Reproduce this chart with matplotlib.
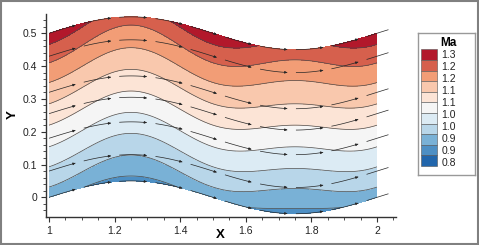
import numpy as np
import matplotlib
matplotlib.use('Agg')
import matplotlib.pyplot as plt
from matplotlib.patches import Rectangle

plt.rcParams['font.family'] = ['Liberation Sans', 'DejaVu Sans']
plt.rcParams['lines.scale_dashes'] = False

# channel geometry
x_start, x_end = 1.0, 2.0
wall_amp = 0.05
wave_len = 1.0
height = 0.5

# Mach contour levels and where each level boundary sits
ma_levels = [0.85, 0.9, 0.95, 1.0, 1.05, 1.1, 1.15, 1.2, 1.25, 1.3]
bound_x1 = [-0.05, -0.01, 0.031, 0.093, 0.154, 0.22, 0.285, 0.35, 0.41, 0.466]      # at x = 1.0
bound_crest = [0.02, 0.065, 0.129, 0.195, 0.259, 0.324, 0.39, 0.456, 0.525, 0.58]   # at x = 1.25
bound_trough = [-0.08, -0.034, 0.027, 0.088, 0.154, 0.22, 0.285, 0.356, 0.419, 0.475]  # at x = 1.75

ma_colors = ['#2166ac', '#4d8fc4', '#79b1d6', '#b8d6e9', '#dcebf4', '#f5f5f5',
             '#fce4d6', '#f9c8ad', '#f29d76', '#d6604d', '#b2182b']
legend_labels = ['1.3', '1.2', '1.2', '1.1', '1.1', '1.0', '1.0', '0.9', '0.9', '0.8']

# streamtraces: offset above the lower wall
stream_offsets = [0.0, 0.08, 0.18, 0.255, 0.32, 0.43, 0.5]
stream_x_end = 2.035

xticks = [1, 1.2, 1.4, 1.6, 1.8, 2]
xtick_labels = ['1', '1.2', '1.4', '1.6', '1.8', '2']
yticks = [0, 0.1, 0.2, 0.3, 0.4, 0.5]
ytick_labels = ['0', '0.1', '0.2', '0.3', '0.4', '0.5']


def wall(x):
    return wall_amp * np.sin(2 * np.pi * (x - x_start) / wave_len)


def boundary(k, x):
    th = 2 * np.pi * (x - x_start) / wave_len
    mid = 0.5 * (bound_crest[k] + bound_trough[k])
    a = 0.5 * (bound_crest[k] - bound_trough[k])
    m = 0.5 * (bound_x1[k] + mid)
    b = 0.5 * (bound_x1[k] - mid)
    return m + a * np.sin(th) + b * np.cos(2 * th)


W, H = 479, 245
fig = plt.figure(figsize=(W / 100, H / 100), dpi=100)
ax = fig.add_axes([46.4 / W, 1 - 216.7 / H, (396 - 46.4) / W, (216.7 - 13.9) / H])

# field on a body-fitted grid
xs = np.linspace(x_start, x_end, 401)
eta = np.linspace(0, height, 201)
X, E = np.meshgrid(xs, eta)
Y = wall(X) + E
Ma = np.empty_like(Y)
for j, xv in enumerate(xs):
    yb = [boundary(k, xv) for k in range(len(ma_levels))]
    yb = [yb[0] - 0.13] + yb + [yb[-1] + 0.13]
    lv = [0.75] + ma_levels + [1.4]
    Ma[:, j] = np.interp(Y[:, j], yb, lv)

ax.contourf(X, Y, Ma, levels=[0.5] + ma_levels + [1.7], colors=ma_colors)
ax.contour(X, Y, Ma, levels=ma_levels, colors='#4a4a4a', linewidths=0.5)

# dashed streamtraces with small arrowheads
dash, gap = 0.085, 0.025
for c in stream_offsets:
    xx = np.linspace(x_start, stream_x_end, 900)
    yy = wall(xx) + c
    s = np.concatenate([[0], np.cumsum(np.hypot(np.diff(xx), np.diff(yy)))])
    start = 0.0
    while start < s[-1]:
        stop = min(start + dash, s[-1])
        m = (s >= start) & (s <= stop)
        ax.plot(xx[m], yy[m], color='#262626', lw=0.5, solid_capstyle='butt')
        if stop < s[-1]:
            i = np.searchsorted(s, stop) - 1
            ax.annotate('', xy=(xx[i], yy[i]), xytext=(xx[i - 8], yy[i - 8]),
                        arrowprops=dict(arrowstyle='-|>', color='#262626', lw=0.5,
                                        mutation_scale=3.5, shrinkA=0, shrinkB=0))
        start = stop + gap

ax.set_xlim(0.992, 2.058)
ax.set_ylim(-0.059, 0.559)
for sp in ['top', 'right']:
    ax.spines[sp].set_visible(False)
for sp in ['left', 'bottom']:
    ax.spines[sp].set_color('#333333')
    ax.spines[sp].set_linewidth(1.0)
ax.set_xticks(xticks)
ax.set_xticklabels(xtick_labels)
ax.set_yticks(yticks)
ax.set_yticklabels(ytick_labels)
ax.set_xticks(np.arange(1.0, 2.06, 0.05), minor=True)
ax.set_yticks(np.arange(-0.04, 0.55, 0.02), minor=True)
ax.tick_params(which='major', direction='out', length=3.5, width=0.8, color='#333333',
               labelsize=7.5, labelcolor='#222222', pad=3)
ax.tick_params(which='minor', direction='out', length=2, width=0.6, color='#333333')

fig.text(220 / W, 1 - 235 / H, 'X', ha='center', va='center', fontsize=9.5, fontweight='bold')
fig.text(13 / W, 1 - 115 / H, 'Y', ha='center', va='center', fontsize=9.5, fontweight='bold',
         rotation=90)

# legend box
lx0, ly0, lx1, ly1 = 417.7, 33, 475, 175
lax = fig.add_axes([lx0 / W, 1 - ly1 / H, (lx1 - lx0) / W, (ly1 - ly0) / H])
lax.set_xlim(0, lx1 - lx0)
lax.set_ylim(ly1 - ly0, 0)
lax.set_xticks([])
lax.set_yticks([])
for sp in lax.spines.values():
    sp.set_color('#999999')
    sp.set_linewidth(1.0)
lax.text(31, 10, 'Ma', ha='center', va='center', fontsize=8.5, fontweight='bold')
nbox = len(ma_colors)
box_top, box_bot = 16.3, 133.0
bh = (box_bot - box_top) / nbox
for i, col in enumerate(ma_colors[::-1]):
    lax.add_patch(Rectangle((3.3, box_top + i * bh), 15.7, bh, facecolor=col,
                            edgecolor='#555555', lw=0.4))
lab_y = np.linspace(22, 129.7, len(legend_labels))
for yv, lab in zip(lab_y, legend_labels):
    lax.text(24, yv, lab, ha='left', va='center', fontsize=7.5, color='#222222')

# outer frame
fig.patches.append(Rectangle((0.002, 0.004), 0.996, 0.992, transform=fig.transFigure,
                             fill=False, edgecolor='#808080', lw=1.5))

fig.savefig('out.png', dpi=100)
